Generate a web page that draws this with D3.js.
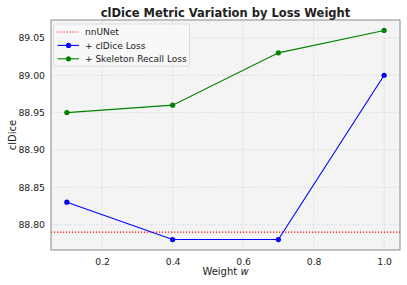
<!DOCTYPE html>
<html>
<head>
<meta charset="utf-8">
<script src="https://cdn.jsdelivr.net/npm/d3@7"></script>
<style>
body { margin: 0; background: #fff; }
text { font-family: "DejaVu Sans", sans-serif; fill: #222; }
</style>
</head>
<body>
<div id="chart"></div>
<script>
const weights = [0.1, 0.4, 0.7, 1.0]
const baseline = 88.79
const clDiceLoss = [88.83, 88.78, 88.78, 89.00]
const skeletonRecall = [88.95, 88.96, 89.03, 89.06]
const xTicks = [0.2, 0.4, 0.6, 0.8, 1.0]
const yTicks = [88.80, 88.85, 88.90, 88.95, 89.00, 89.05]

const W = 407, H = 285
const margin = {top: 20, right: 7, bottom: 35, left: 51}
const w = W - margin.left - margin.right,
	h = H - margin.top - margin.bottom

const svg = d3.select("#chart").append("svg")
	.attr("width", W)
	.attr("height", H)

const g = svg.append("g")
	.attr("transform", `translate(${margin.left},${margin.top})`)

const x = d3.scaleLinear().domain([0.055, 1.045]).range([0, w])
const y = d3.scaleLinear().domain([88.766, 89.074]).range([h, 0])

g.append("rect")
	.attr("width", w).attr("height", h)
	.attr("fill", "#f4f4f4")

// grid
g.selectAll(".gx").data(xTicks).enter().append("line")
	.attr("x1", d => x(d)).attr("x2", d => x(d))
	.attr("y1", 0).attr("y2", h)
	.attr("stroke", "#dcdcdc").attr("stroke-width", 0.8)
	.attr("stroke-dasharray", "3,1.5")
g.selectAll(".gy").data(yTicks).enter().append("line")
	.attr("y1", d => y(d)).attr("y2", d => y(d))
	.attr("x1", 0).attr("x2", w)
	.attr("stroke", "#dcdcdc").attr("stroke-width", 0.8)
	.attr("stroke-dasharray", "3,1.5")

// axes
const xAxis = g.append("g")
	.attr("transform", `translate(0,${h})`)
	.call(d3.axisBottom(x).tickValues(xTicks).tickFormat(d3.format(".1f")).tickSize(0).tickPadding(8))
const yAxis = g.append("g")
	.call(d3.axisLeft(y).tickValues(yTicks).tickFormat(d3.format(".2f")).tickSize(0).tickPadding(6))
xAxis.select(".domain").remove()
yAxis.select(".domain").remove()
g.selectAll(".tick text").attr("font-size", 9.3).attr("fill", "#333")
	.style("font-family", "DejaVu Sans, sans-serif")

// baseline
g.append("line")
	.attr("x1", 0).attr("x2", w)
	.attr("y1", y(baseline)).attr("y2", y(baseline))
	.attr("stroke", "#ff0000").attr("stroke-width", 1.2)
	.attr("stroke-dasharray", "1.2,1.8")

const line = d3.line().x(d => x(d[0])).y(d => y(d[1]))

const series = [
	{name: "+ clDice Loss", color: "blue", values: clDiceLoss},
	{name: "+ Skeleton Recall Loss", color: "green", values: skeletonRecall}
]

series.forEach(s => {
	const pts = weights.map((wt, i) => [wt, s.values[i]])
	g.append("path")
		.datum(pts)
		.attr("d", line)
		.attr("fill", "none")
		.attr("stroke", s.color)
		.attr("stroke-width", 1.1)
	g.selectAll(null).data(pts).enter().append("circle")
		.attr("cx", d => x(d[0])).attr("cy", d => y(d[1]))
		.attr("r", 2.6)
		.attr("fill", s.color)
})

// frame
g.append("rect")
	.attr("width", w).attr("height", h)
	.attr("fill", "none")
	.attr("stroke", "#8a8a8a").attr("stroke-width", 1)

// legend
const legend = g.append("g").attr("transform", "translate(2.5,4)")
legend.append("rect")
	.attr("width", 136).attr("height", 42)
	.attr("rx", 2)
	.attr("fill", "#f8f8f8").attr("fill-opacity", 0.85)
	.attr("stroke", "#d6d6d6").attr("stroke-width", 0.8)

const legendItems = [
	{name: "nnUNet", color: "#ff0000", dash: true},
	{name: series[0].name, color: series[0].color},
	{name: series[1].name, color: series[1].color}
]
legendItems.forEach((d, i) => {
	const ly = 8 + i * 13.4
	legend.append("line")
		.attr("x1", 4).attr("x2", 25.5)
		.attr("y1", ly).attr("y2", ly)
		.attr("stroke", d.color)
		.attr("stroke-width", d.dash ? 1.2 : 1.1)
		.attr("stroke-dasharray", d.dash ? "1.2,1.8" : null)
	if (!d.dash) {
		legend.append("circle").attr("cx", 15).attr("cy", ly).attr("r", 2.6).attr("fill", d.color)
	}
	legend.append("text")
		.attr("x", 31.5).attr("y", ly)
		.attr("dy", "0.35em")
		.attr("font-size", 9)
		.text(d.name)
})

// title & labels
svg.append("text")
	.attr("x", margin.left + w / 2).attr("y", 12.5)
	.attr("dy", "0.35em")
	.attr("text-anchor", "middle")
	.attr("font-size", 11.5).attr("font-weight", "bold")
	.attr("fill", "#111")
	.text("clDice Metric Variation by Loss Weight")

svg.append("text")
	.attr("x", margin.left + w / 2).attr("y", 271)
	.attr("dy", "0.35em")
	.attr("text-anchor", "middle")
	.attr("font-size", 10)
	.text("Weight ")
	.append("tspan").attr("font-style", "italic").text("w")

svg.append("text")
	.attr("transform", `translate(12,${margin.top + h / 2}) rotate(-90)`)
	.attr("dy", "0.35em")
	.attr("text-anchor", "middle")
	.attr("font-size", 10)
	.text("clDice")
</script>
</body>
</html>
